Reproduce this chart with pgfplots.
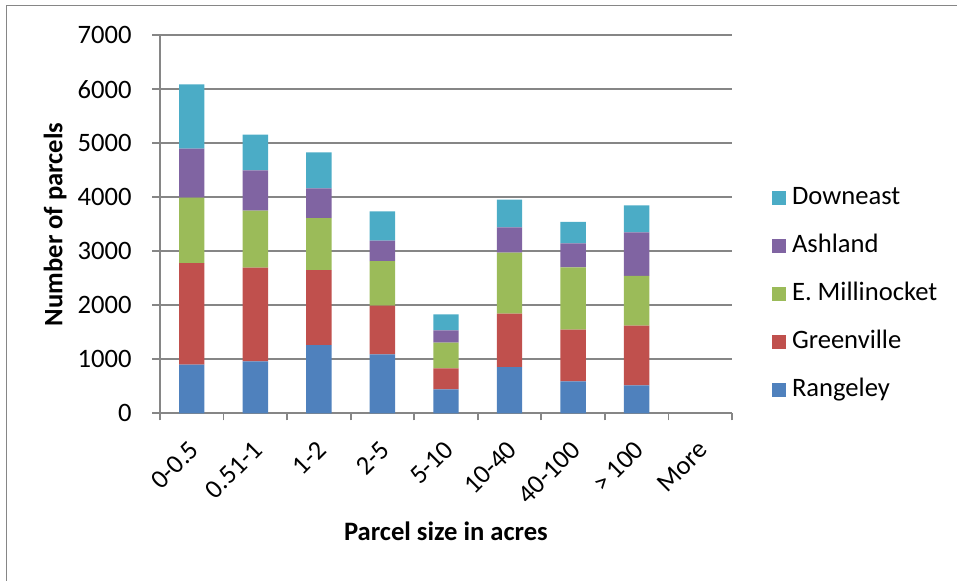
\documentclass[border=0pt]{standalone}
\usepackage{pgfplots}
\pgfplotsset{compat=1.18}
\usepackage{fontspec}
\setmainfont{Carlito}
\definecolor{cRan}{HTML}{4F81BD}
\definecolor{cGre}{HTML}{C0504D}
\definecolor{cMil}{HTML}{9BBB59}
\definecolor{cAsh}{HTML}{8064A2}
\definecolor{cDow}{HTML}{4BACC6}
\definecolor{gridgray}{HTML}{868686}
\newcommand{\cf}{\fontsize{13.3}{16}\selectfont}
\begin{document}
\begin{tikzpicture}
\useasboundingbox (0,0) rectangle (478.5pt,-290pt);
\draw[gridgray, line width=0.75pt] (3.35pt,-2.85pt) rectangle (520pt,-330pt);
\begin{axis}[
  at={(80pt,-206.65pt)}, anchor=south west,
  scale only axis, width=286pt, height=189pt,
  ybar stacked, bar width=12.7pt,
  xmin=-0.5, xmax=8.5, ymin=0, ymax=7000,
  xtick={0,...,8},
  xticklabels={0-0.5,0.51-1,1-2,2-5,5-10,10-40,40-100,> 100,More},
  minor xtick={-0.5,0.5,...,8.5},
  major x tick style={draw=none},
  ytick={0,1000,...,7000},
  tick align=outside, major tick length=4pt, minor tick length=3.5pt,
  axis x line*=bottom, axis y line*=left,
  axis line style={gridgray, line width=0.9pt, -},
  every tick/.style={gridgray, line width=0.9pt},
  ymajorgrids, major grid style={gridgray, line width=0.9pt},
  scaled y ticks=false,
  /pgf/number format/1000 sep={},
  /pgf/number format/assume math mode=true,
  tick label style={font=\cf, text=black},
  yticklabel style={anchor=east, inner sep=0pt, xshift=-10pt},
  xticklabel style={xshift=1.5pt, yshift=-12pt, rotate=45, anchor=east, inner sep=0pt},
  xlabel={Parcel size in acres},
  ylabel={Number of parcels},
  xlabel style={font=\bfseries\cf, at={(axis description cs:0.5,0)}, anchor=base, yshift=-63.5pt, inner sep=0pt},
  ylabel style={font=\bfseries\cf, at={(axis description cs:-0.1626,0.5)}, anchor=south, inner sep=0pt},
  reverse legend,
  legend style={font=\cf, draw=none, fill=none, inner sep=0pt, outer sep=0pt,
    at={(axis description cs:1.070,0.6005)}, anchor=north west,
    row sep=12pt, cells={anchor=west},
    nodes={inner sep=0pt, text height=9pt, text depth=3pt},
    /tikz/every odd column/.append style={column sep=3pt}},
  legend image code/.code={\fill[#1] (0pt,-3.5pt) rectangle (7pt,3.5pt);},
]
\addplot[fill=cRan, draw=none] coordinates {(0,900) (1,963) (2,1265) (3,1092) (4,444) (5,857) (6,593) (7,519)};
\addplot[fill=cGre, draw=none] coordinates {(0,1883) (1,1734) (2,1389) (3,901) (4,389) (5,988) (6,956) (7,1104)};
\addplot[fill=cMil, draw=none] coordinates {(0,1210) (1,1055) (2,963) (3,827) (4,474) (5,1130) (6,1155) (7,920)};
\addplot[fill=cAsh, draw=none] coordinates {(0,907) (1,748) (2,549) (3,377) (4,230) (5,469) (6,444) (7,809)};
\addplot[fill=cDow, draw=none] coordinates {(0,1193) (1,660) (2,667) (3,543) (4,296) (5,512) (6,395) (7,500)};
\legend{Rangeley,Greenville,E. Millinocket,Ashland,Downeast}
\end{axis}
\end{tikzpicture}
\end{document}
